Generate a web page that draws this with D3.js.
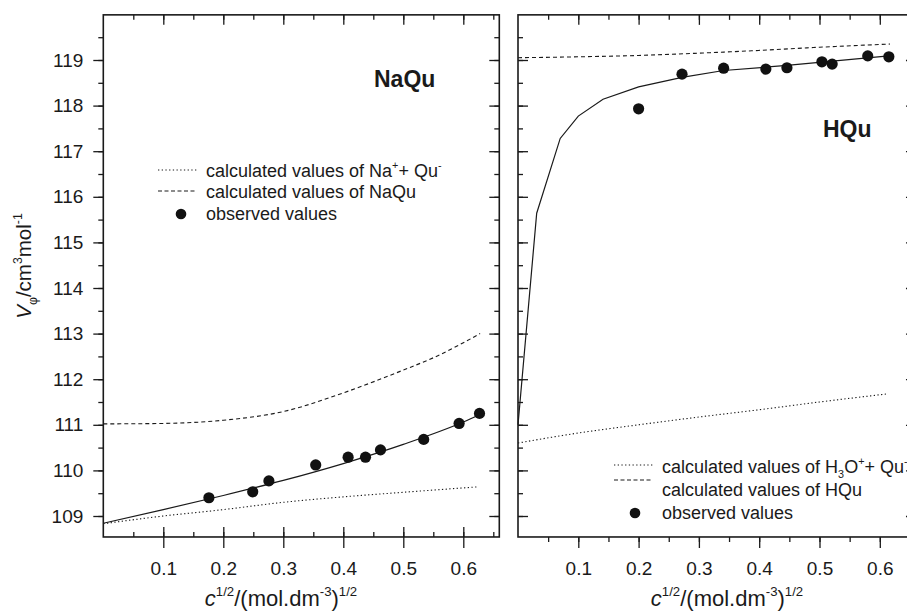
<!DOCTYPE html>
<html>
<head>
<meta charset="utf-8">
<script src="https://cdn.jsdelivr.net/npm/d3@7"></script>
<style>
  body { margin: 0; background: #fff; }
  svg { font-family: "Liberation Sans", Arial, sans-serif; }
</style>
</head>
<body>
<svg id="chart" width="907" height="611"></svg>
<script>
// ---- data ----
// NaQu panel
const naObsC = [0.176, 0.249, 0.276, 0.354, 0.408, 0.437, 0.462, 0.534, 0.593, 0.627];
const naObsV = [109.40, 109.53, 109.77, 110.12, 110.29, 110.29, 110.45, 110.68, 111.03, 111.25];
const naFitC = [0, 0.1, 0.2, 0.3, 0.4, 0.5, 0.6, 0.627];
const naFitV = [108.84, 109.14, 109.45, 109.78, 110.15, 110.57, 111.06, 111.22];
const naIonC = [0, 0.1, 0.2, 0.3, 0.4, 0.5, 0.625];
const naIonV = [108.83, 109.0, 109.14, 109.3, 109.42, 109.52, 109.64];
const naMolC = [0, 0.1, 0.2, 0.3, 0.4, 0.5, 0.55, 0.628];
const naMolV = [111.02, 111.03, 111.1, 111.29, 111.7, 112.2, 112.47, 113.0];

// HQu panel
const hObsC = [0.200, 0.272, 0.341, 0.411, 0.446, 0.504, 0.521, 0.580, 0.615];
const hObsV = [117.93, 118.69, 118.82, 118.80, 118.83, 118.96, 118.91, 119.09, 119.07];
const hFitC = [0, 0.031, 0.070, 0.100, 0.141, 0.200, 0.272, 0.341, 0.446, 0.615];
const hFitV = [111.0, 115.64, 117.28, 117.77, 118.14, 118.41, 118.62, 118.77, 118.88, 119.09];
const hIonC = [0, 0.1, 0.2, 0.3, 0.4, 0.5, 0.614];
const hIonV = [110.6, 110.82, 111.0, 111.17, 111.33, 111.5, 111.68];
const hMolC = [0, 0.1, 0.2, 0.3, 0.4, 0.5, 0.617];
const hMolV = [119.05, 119.07, 119.1, 119.15, 119.21, 119.28, 119.35];

const yTicks = [109, 110, 111, 112, 113, 114, 115, 116, 117, 118, 119];
const xTicks = [0.1, 0.2, 0.3, 0.4, 0.5, 0.6];
const yDomain = [108.54, 119.99];
const xDomain = [0, 0.66];

const ink = "#1a1a1a";
const svg = d3.select("#chart");

const y = d3.scaleLinear().domain([109, 119]).range([516, 60]);
const xL = d3.scaleLinear().domain([0, 0.1]).range([103.3, 163.3]);
const xR = d3.scaleLinear().domain([0, 0.1]).range([518, 578.3]);

const yMinor = d3.range(109, 120, 0.5).filter(v => v <= yDomain[1]);
const xMinor = d3.range(0.05, 0.66, 0.05);

function zip(c, v) { return c.map((d, i) => ({ c: d, v: v[i] })); }

function frame(x) {
  const top = y(yDomain[1]), bottom = y(yDomain[0]);
  const left = x(xDomain[0]), right = x(xDomain[1]);
  const g = svg.append("g");

  // top axis, inward ticks
  g.append("g").attr("transform", `translate(0,${top})`)
    .call(d3.axisTop(x).tickValues(xMinor).tickSize(-5).tickFormat(""));
  g.append("g").attr("transform", `translate(0,${top})`)
    .call(d3.axisTop(x).tickValues(xTicks).tickSize(-10).tickFormat(""));
  // right axis, inward ticks
  g.append("g").attr("transform", `translate(${right},0)`)
    .call(d3.axisRight(y).tickValues(yMinor).tickSize(-5).tickFormat(""));
  g.append("g").attr("transform", `translate(${right},0)`)
    .call(d3.axisRight(y).tickValues(yTicks).tickSize(-10).tickFormat(""));

  g.selectAll(".domain").remove();
  g.selectAll("line").attr("stroke", ink).attr("stroke-width", 1.3);
  return { g, top, bottom, left, right };
}

function drawBox(f) {
  svg.append("rect")
    .attr("x", f.left).attr("y", f.top)
    .attr("width", f.right - f.left).attr("height", f.bottom - f.top)
    .attr("fill", "none").attr("stroke", ink).attr("stroke-width", 1.6);
}

function tickLabelsX(g, x, bottom) {
  g.append("g").attr("transform", `translate(0,${bottom})`)
    .call(d3.axisBottom(x).tickValues(xTicks).tickSize(0).tickPadding(0).tickFormat(d3.format(".1f")))
    .call(a => a.select(".domain").remove())
    .selectAll("text")
    .attr("y", 38).attr("dy", 0)
    .attr("font-size", 19).attr("fill", ink)
    .attr("font-family", "Liberation Sans, Arial, sans-serif");
}

function series(x, c, v, dash, smooth) {
  const line = d3.line().x(d => x(d.c)).y(d => y(d.v));
  if (smooth) line.curve(d3.curveMonotoneX);
  svg.append("path")
    .datum(zip(c, v))
    .attr("d", line)
    .attr("fill", "none")
    .attr("stroke", ink)
    .attr("stroke-width", dash ? 1.1 : 1.2)
    .attr("stroke-dasharray", dash || null);
}

function points(x, c, v) {
  svg.append("g").selectAll("circle")
    .data(zip(c, v))
    .enter().append("circle")
    .attr("cx", d => x(d.c))
    .attr("cy", d => y(d.v))
    .attr("r", 5.6)
    .attr("fill", "#111");
}

// ---------- left panel ----------
const fl = frame(xL);
// left axis: outward ticks with labels
fl.g.append("g").attr("transform", `translate(${fl.left},0)`)
  .call(d3.axisLeft(y).tickValues(yMinor).tickSize(5).tickFormat(""))
  .call(a => a.select(".domain").remove());
fl.g.append("g").attr("transform", `translate(${fl.left},0)`)
  .call(d3.axisLeft(y).tickValues(yTicks).tickSize(10).tickPadding(10).tickFormat(d3.format("d")))
  .call(a => a.select(".domain").remove())
  .selectAll("text").attr("font-size", 19).attr("fill", ink)
  .attr("font-family", "Liberation Sans, Arial, sans-serif");
// bottom axis: minor inward, major crossing
fl.g.append("g").attr("transform", `translate(0,${fl.bottom})`)
  .call(d3.axisBottom(xL).tickValues(xMinor).tickSize(-5).tickFormat(""))
  .call(a => a.select(".domain").remove());
fl.g.append("g").attr("transform", `translate(0,${fl.bottom})`)
  .call(d3.axisBottom(xL).tickValues(xTicks).tickSize(11).tickFormat(""))
  .call(a => a.select(".domain").remove());
fl.g.append("g").attr("transform", `translate(0,${fl.bottom})`)
  .call(d3.axisBottom(xL).tickValues(xTicks).tickSize(-10).tickFormat(""))
  .call(a => a.select(".domain").remove());
fl.g.selectAll("line").attr("stroke", ink).attr("stroke-width", 1.3);
tickLabelsX(fl.g, xL, fl.bottom);

series(xL, naIonC, naIonV, "1.3,2.4", true);
series(xL, naMolC, naMolV, "4,3", true);
series(xL, naFitC, naFitV, null, true);
points(xL, naObsC, naObsV);
drawBox(fl);

// ---------- right panel ----------
const fr = frame(xR);
fr.g.append("g").attr("transform", `translate(${fr.left},0)`)
  .call(d3.axisRight(y).tickValues(yMinor).tickSize(5).tickFormat(""))
  .call(a => a.select(".domain").remove());
fr.g.append("g").attr("transform", `translate(${fr.left},0)`)
  .call(d3.axisRight(y).tickValues(yTicks).tickSize(10).tickFormat(""))
  .call(a => a.select(".domain").remove());
fr.g.append("g").attr("transform", `translate(0,${fr.bottom})`)
  .call(d3.axisBottom(xR).tickValues(xMinor).tickSize(5).tickFormat(""))
  .call(a => a.select(".domain").remove());
fr.g.append("g").attr("transform", `translate(0,${fr.bottom})`)
  .call(d3.axisBottom(xR).tickValues(xTicks).tickSize(11).tickFormat(""))
  .call(a => a.select(".domain").remove());
fr.g.selectAll("line").attr("stroke", ink).attr("stroke-width", 1.3);
tickLabelsX(fr.g, xR, fr.bottom);

series(xR, hIonC, hIonV, "1.3,2.4", true);
series(xR, hMolC, hMolV, "4,3", true);
series(xR, hFitC, hFitV, null, false);
points(xR, hObsC, hObsV);
drawBox(fr);

// ---------- titles ----------
svg.append("text").attr("x", 374).attr("y", 87)
  .attr("font-size", 23).attr("font-weight", "bold").attr("fill", ink).text("NaQu");
svg.append("text").attr("x", 823).attr("y", 137)
  .attr("font-size", 23).attr("font-weight", "bold").attr("fill", ink).text("HQu");

// ---------- legends ----------
function rich(sel, parts, size) {
  // parts: [text, mode]  mode: "n" normal, "sup", "sub", "i" italic
  let shift = 0;
  parts.forEach(([t, m]) => {
    const ts = sel.append("tspan").text(t);
    let target = 0;
    if (m === "sup") target = -size * 0.45;
    if (m === "sub") target = size * 0.3;
    ts.attr("dy", target - shift);
    shift = target;
    if (m === "sup" || m === "sub") ts.attr("font-size", size * 0.6);
    if (m === "i") ts.attr("font-style", "italic");
  });
}

function legend(x0, rows) {
  rows.forEach(r => {
    if (r.kind === "dot") {
      svg.append("circle").attr("cx", r.cx).attr("cy", r.ly).attr("r", 5.3).attr("fill", "#111");
    } else {
      svg.append("line").attr("x1", x0).attr("x2", x0 + 39)
        .attr("y1", r.ly).attr("y2", r.ly)
        .attr("stroke", ink).attr("stroke-width", 1.1)
        .attr("stroke-dasharray", r.kind === "dot2" ? "1.3,2.4" : "4,2.5");
    }
    const t = svg.append("text").attr("x", x0 + 48).attr("y", r.ty)
      .attr("font-size", 18).attr("fill", ink);
    rich(t, r.parts, 18);
  });
}

legend(158, [
  { kind: "dot2", ly: 170, ty: 177, parts: [["calculated values of Na", "n"], ["+", "sup"], ["+ Qu", "n"], ["-", "sup"]] },
  { kind: "dash", ly: 191, ty: 198, parts: [["calculated values of NaQu", "n"]] },
  { kind: "dot", cx: 181, ly: 214, ty: 220, parts: [["observed values", "n"]] }
]);
legend(614, [
  { kind: "dot2", ly: 465, ty: 473, parts: [["calculated values of H", "n"], ["3", "sub"], ["O", "n"], ["+", "sup"], ["+ Qu", "n"], ["-", "sup"]] },
  { kind: "dash", ly: 480, ty: 496, parts: [["calculated values of HQu", "n"]] },
  { kind: "dot", cx: 635, ly: 513, ty: 519, parts: [["observed values", "n"]] }
]);

// ---------- axis titles ----------
const yl = svg.append("text")
  .attr("transform", "translate(31,266) rotate(-90)")
  .attr("text-anchor", "middle").attr("font-size", 20.5).attr("fill", ink);
rich(yl, [["V", "i"], ["φ", "sub"], ["/cm", "n"], ["3", "sup"], ["mol", "n"], ["-1", "sup"]], 20.5);

function xTitle(cx) {
  const t = svg.append("text").attr("x", cx).attr("y", 606)
    .attr("text-anchor", "middle").attr("font-size", 22).attr("fill", ink);
  rich(t, [["c", "i"], ["1/2", "sup"], ["/(mol.dm", "n"], ["-3", "sup"], [")", "n"], ["1/2", "sup"]], 22);
}
xTitle(281);
xTitle(727);
</script>
</body>
</html>
